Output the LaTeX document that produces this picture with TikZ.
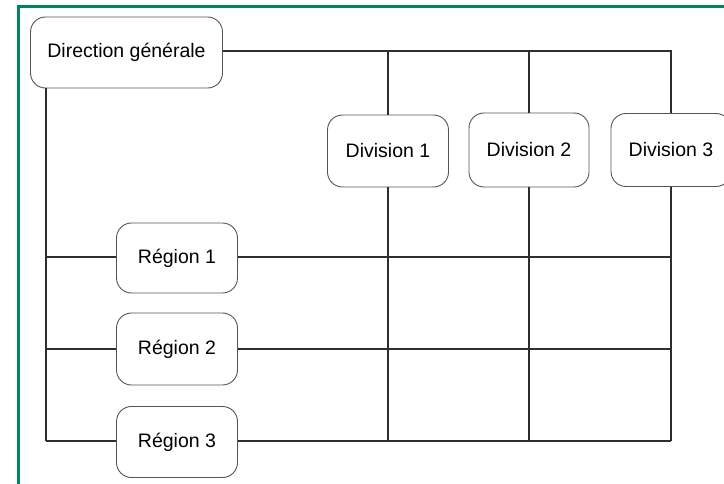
\documentclass[tikz,border=0pt]{standalone}
\usepackage{fontspec}
\setmainfont{Liberation Sans}
\definecolor{framegreen}{RGB}{0,134,84}
\definecolor{wire}{RGB}{45,45,48}
\definecolor{boxline}{RGB}{85,85,85}
\begin{document}
\begin{tikzpicture}[x=1pt,y=-1pt,
  unit/.style={draw=boxline, line width=0.9pt, fill=white, rounded corners=15pt,
    inner sep=0pt, font=\fontsize{19.5}{23}\selectfont},
  link/.style={draw=wire, line width=1.8pt}]
  \useasboundingbox (0,0) rectangle (724,484);
  \fill[white] (0,0) rectangle (724,484);
  % outer frame (top and left edges)
  \draw[framegreen, line width=3pt] (18,490) -- (18,7) -- (730,7);

  % boxes
  \node[unit, minimum width=192pt, minimum height=71pt] (dg) at (126.5,52.5) {Direction générale};
  \node[unit, minimum width=121pt, minimum height=72pt] (d1) at (388,151) {Division 1};
  \node[unit, minimum width=120pt, minimum height=74pt] (d2) at (529,150) {Division 2};
  \node[unit, minimum width=120pt, minimum height=73pt] (d3) at (671,150) {Division 3};
  \node[unit, minimum width=121pt, minimum height=70pt] (g1) at (177,258) {Région 1};
  \node[unit, minimum width=121pt, minimum height=72pt] (g2) at (177,349) {Région 2};
  \node[unit, minimum width=121pt, minimum height=71pt] (g3) at (177,442) {Région 3};

  % junctions of the grid
  \coordinate (t1) at (388,51);
  \coordinate (t2) at (529,51);
  \coordinate (t3) at (671,51);
  \coordinate (l0) at (46,88);
  \coordinate (l1) at (46,257);
  \coordinate (l2) at (46,349);
  \coordinate (l3) at (46,441);
  \coordinate (r1) at (671,257);
  \coordinate (r2) at (671,349);
  \coordinate (r3) at (671,441);
  \coordinate (b1) at (388,441);
  \coordinate (b2) at (529,441);

  % links
  \draw[link] (dg.east |- t3) -- (t3) -- (d3.north);
  \draw[link] (t1) -- (d1.north);
  \draw[link] (t2) -- (d2.north);
  \draw[link] (d1.south) -- (b1);
  \draw[link] (d2.south) -- (b2);
  \draw[link] (d3.south) -- (r3);
  \draw[link] (l0) -- (l3);
  \draw[link] (l1) -- (g1.west |- l1);
  \draw[link] (l2) -- (g2.west |- l2);
  \draw[link] (l3) -- (g3.west |- l3);
  \draw[link] (g1.east |- r1) -- (r1);
  \draw[link] (g2.east |- r2) -- (r2);
  \draw[link] (g3.east |- r3) -- (r3);
\end{tikzpicture}
\end{document}
